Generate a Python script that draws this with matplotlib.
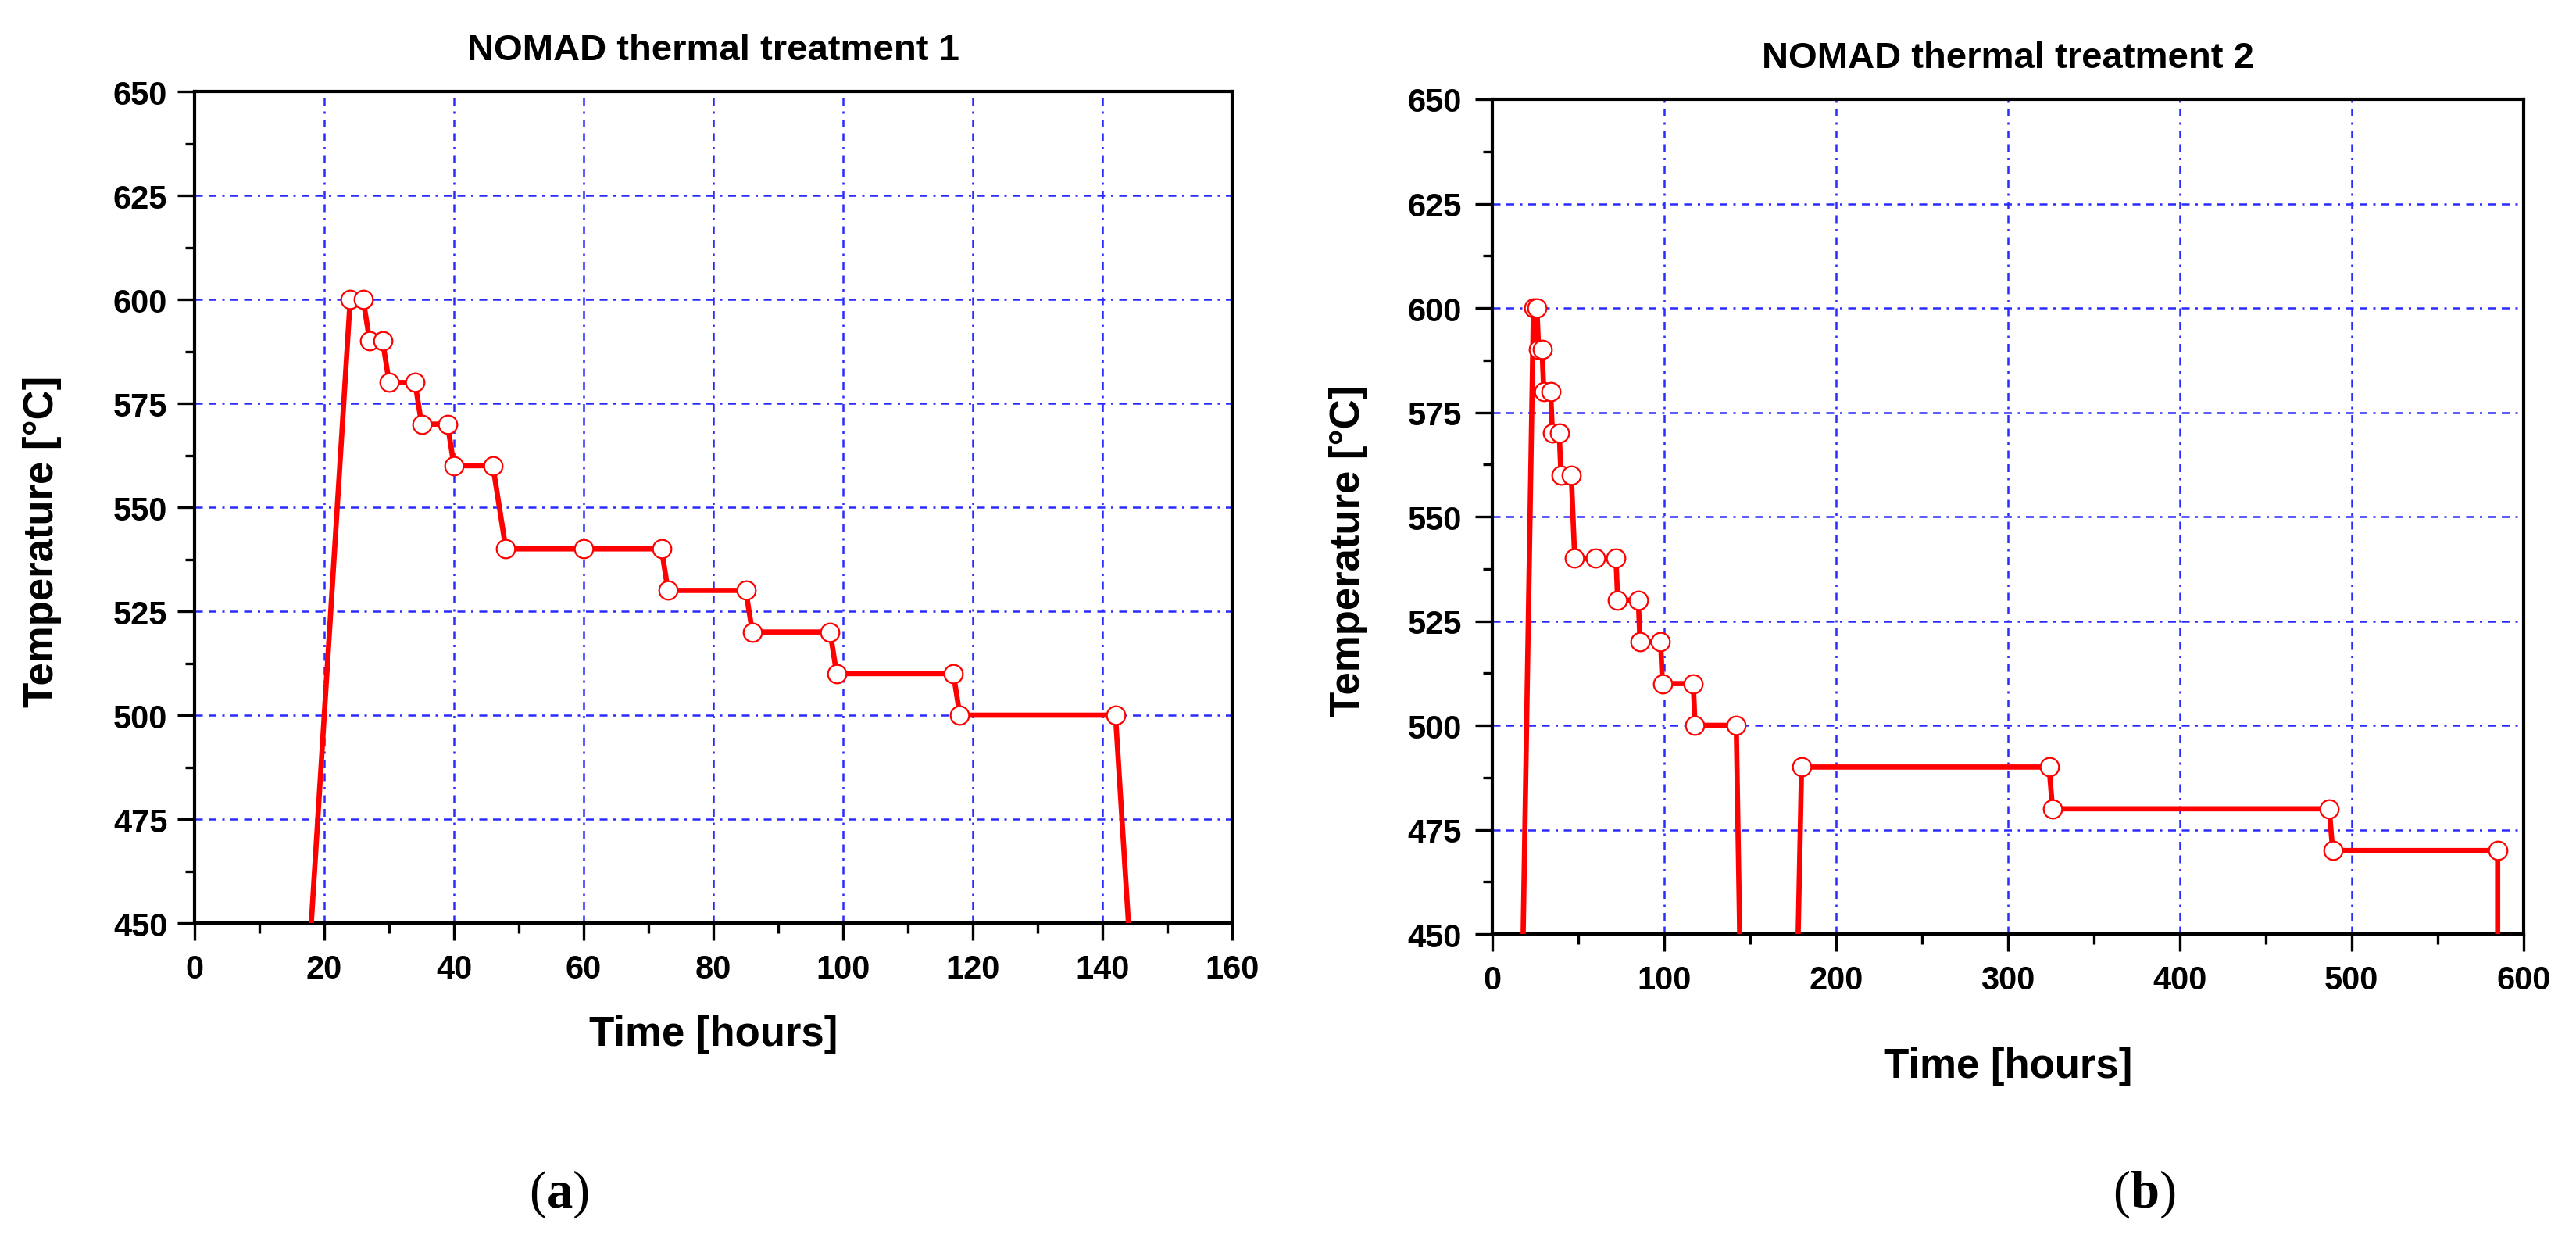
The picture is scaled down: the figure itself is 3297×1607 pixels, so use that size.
import numpy as np
import matplotlib
matplotlib.use('Agg')
import matplotlib.pyplot as plt
from matplotlib.ticker import MultipleLocator

plt.rcParams['font.family'] = ['Liberation Sans', 'DejaVu Sans']
plt.rcParams['font.weight'] = 'bold'
plt.rcParams['mathtext.fontset'] = 'custom'
plt.rcParams['mathtext.rm'] = 'Liberation Serif'
plt.rcParams['mathtext.bf'] = 'Liberation Serif:bold'

# %%
# thermal treatment 1 (hours, deg C)
time_1 = [18, 24, 26, 27, 29, 30, 34, 35, 39, 40, 46, 48, 60, 72, 73, 85,
          86, 98, 99, 117, 118, 142, 144]
temp_1 = [450, 600, 600, 590, 590, 580, 580, 570, 570, 560, 560, 540, 540, 540, 530, 530,
          520, 520, 510, 510, 500, 500, 450]

# thermal treatment 2 (hours, deg C), gap = furnace off below 450
time_2 = [18, 24, 26, 27, 29, 30, 34, 35, 39, 40, 46, 48, 60, 72, 73, 85,
          86, 98, 99, 117, 118, 142, 144, np.nan, 178, 180, 324, 326, 487, 489, 585, 585]
temp_2 = [450, 600, 600, 590, 590, 580, 580, 570, 570, 560, 560, 540, 540, 540, 530, 530,
          520, 520, 510, 510, 500, 500, 450, np.nan, 450, 490, 490, 480, 480, 470, 470, 450]

titles = ['NOMAD thermal treatment 1', 'NOMAD thermal treatment 2']
x_max = [160, 600]
x_step = [20, 100]
captions = ['a', 'b']

# %%
fig = plt.figure(figsize=(32.98, 16.08), dpi=100)
ax1 = fig.add_axes([0.0755, 0.2649, 0.4027, 0.6617])
ax2 = fig.add_axes([0.5791, 0.2562, 0.4002, 0.6642])

red = '#ff0000'
grid_blue = '#2b2bff'

panels = [(ax1, time_1, temp_1), (ax2, time_2, temp_2)]
for i, (ax, t, T) in enumerate(panels):
    T = np.array(T, dtype=float)
    marks = [k for k, v in enumerate(T) if v > 450]
    ax.plot(t, T, color=red, lw=4.8, marker='o', markevery=marks, ms=17,
            mfc='white', mec=red, mew=1.6, zorder=3)

    ax.set_xlim(0, x_max[i])
    ax.set_ylim(450, 650)
    ax.xaxis.set_major_locator(MultipleLocator(x_step[i]))
    ax.xaxis.set_minor_locator(MultipleLocator(x_step[i] / 2))
    ax.yaxis.set_major_locator(MultipleLocator(25))
    ax.yaxis.set_minor_locator(MultipleLocator(12.5))

    ax.grid(True, which='major', color=grid_blue, lw=1.8,
            linestyle=(0, (4, 3, 4, 3, 1.2, 3)))
    ax.set_axisbelow(True)

    ax.tick_params(which='major', direction='out', length=16, width=2.4, labelsize=30)
    ax.tick_params(which='minor', direction='out', length=9, width=2.4)
    ax.tick_params(axis='x', pad=12)
    ax.tick_params(axis='y', pad=9 if i == 0 else 12)
    for s in ax.spines.values():
        s.set_linewidth(3)

    ax.set_xlabel('Time [hours]', fontsize=38, fontweight='bold')
    ax.set_ylabel('Temperature [°C]', fontsize=38, fontweight='bold')
    ax.yaxis.set_label_coords(-0.128 if i == 0 else -0.12, 0.46)
    ax.xaxis.set_label_coords(0.5, -0.11 if i == 0 else -0.135)
    ax.text(0.5, 1.05, titles[i], transform=ax.transAxes, ha='center', va='center',
            fontsize=34, fontweight='bold')

# panel captions
cap_x = [0.217, 0.832]
for i in range(2):
    fig.text(cap_x[i], 0.05, '($\\mathbf{' + captions[i] + '}$)',
             ha='center', va='center', fontsize=48, family='Liberation Serif',
             fontweight='normal')

fig.savefig('out.png', dpi=100, facecolor='white')
